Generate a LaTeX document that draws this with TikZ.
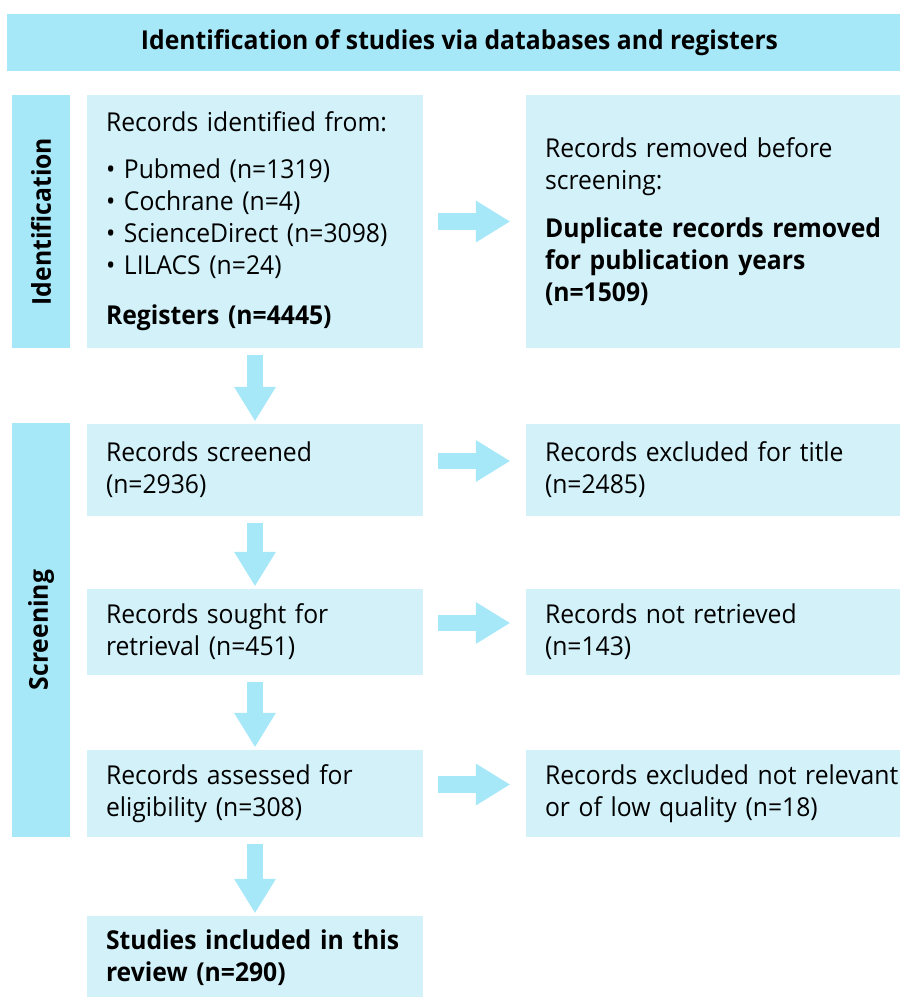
\documentclass[tikz,border=0pt]{standalone}
\usepackage{fontspec}
\setmainfont[FakeStretch=0.95]{Open Sans}
\usetikzlibrary{arrows.meta}
\definecolor{barblue}{HTML}{A6E8F8}
\definecolor{boxblue}{HTML}{D2F1F9}

\begin{document}
\begin{tikzpicture}[x=1pt,y=-1pt,
    txt/.style={font=\fontsize{26}{32}\selectfont},
    bar/.style={txt,rectangle,fill=barblue,font=\fontsize{26}{32}\selectfont\bfseries,minimum height=58pt,inner sep=0pt,rotate=90},
    lbox/.style={txt,rectangle,fill=boxblue,text width=298pt,align=left,inner xsep=19pt,inner ysep=0pt},
    rbox/.style={lbox,text width=380pt},
    flow/.style={draw=barblue,line width=16.5pt,-{Triangle[length=34pt,width=42pt,line width=0pt]}},
    down/.style={flow,shorten <=7pt,shorten >=3pt},
    side/.style={flow,shorten <=15pt,shorten >=16pt}]
    \useasboundingbox (0,0) rectangle (900,997);

    % Header
    \node[txt,fill=barblue,font=\fontsize{26}{32}\selectfont\bfseries,minimum width=905pt,minimum height=57pt,inner sep=0pt] (head) at (459.5,42.5) {Identification of studies via databases and registers};

    % Identification
    \node[bar,minimum width=253pt] (idbar) at (41,221.5) {Identification};
    \node[lbox,minimum height=253pt] (recid) at (255,221.5) {Records identified from:\\[15pt]
        \textbullet\ Pubmed (n=1319)\\
        \textbullet\ Cochrane (n=4)\\
        \textbullet\ ScienceDirect (n=3098)\\
        \textbullet\ LILACS (n=24)\\[18pt]
        \textbf{Registers (n=4445)}};
    \node[rbox,minimum height=253pt] (removed) at (735,221.5) {Records removed before\\
        screening:\\[16pt]
        \textbf{Duplicate records removed}\\
        \textbf{for publication years}\\
        \textbf{(n=1509)}};

    % Screening
    \node[bar,minimum width=414pt] (scrbar) at (41,630) {Screening};
    \node[lbox,minimum height=92pt] (screened) at (255,470) {Records screened\\(n=2936)};
    \node[rbox,minimum height=92pt] (extitle) at (735,470) {Records excluded for title\\(n=2485)};
    \node[lbox,minimum height=86pt] (sought) at (255,632) {Records sought for\\retrieval (n=451)};
    \node[rbox,minimum height=86pt] (notret) at (735,632) {Records not retrieved\\(n=143)};
    \node[lbox,minimum height=87pt] (assessed) at (255,793.5) {Records assessed for\\eligibility (n=308)};
    \node[rbox,minimum height=87pt] (exqual) at (735,793.5) {Records excluded not relevant\\or of low quality (n=18)};

    % Included
    \node[lbox,minimum height=84pt] (included) at (255,958) {\textbf{Studies included in this}\\\textbf{review (n=290)}};

    % Arrows
    \draw[side] (recid.east) -- (removed.west);
    \draw[side] ([yshift=9pt]screened.east) -- ([yshift=9pt]extitle.west);
    \draw[side] ([yshift=9pt]sought.east) -- ([yshift=9pt]notret.west);
    \draw[side] ([yshift=9pt]assessed.east) -- ([yshift=9pt]exqual.west);
    \draw[down] (recid.south) -- (screened.north);
    \draw[down] (screened.south) -- (sought.north);
    \draw[down] (sought.south) -- (assessed.north);
    \draw[down] (assessed.south) -- (included.north);
\end{tikzpicture}
\end{document}
